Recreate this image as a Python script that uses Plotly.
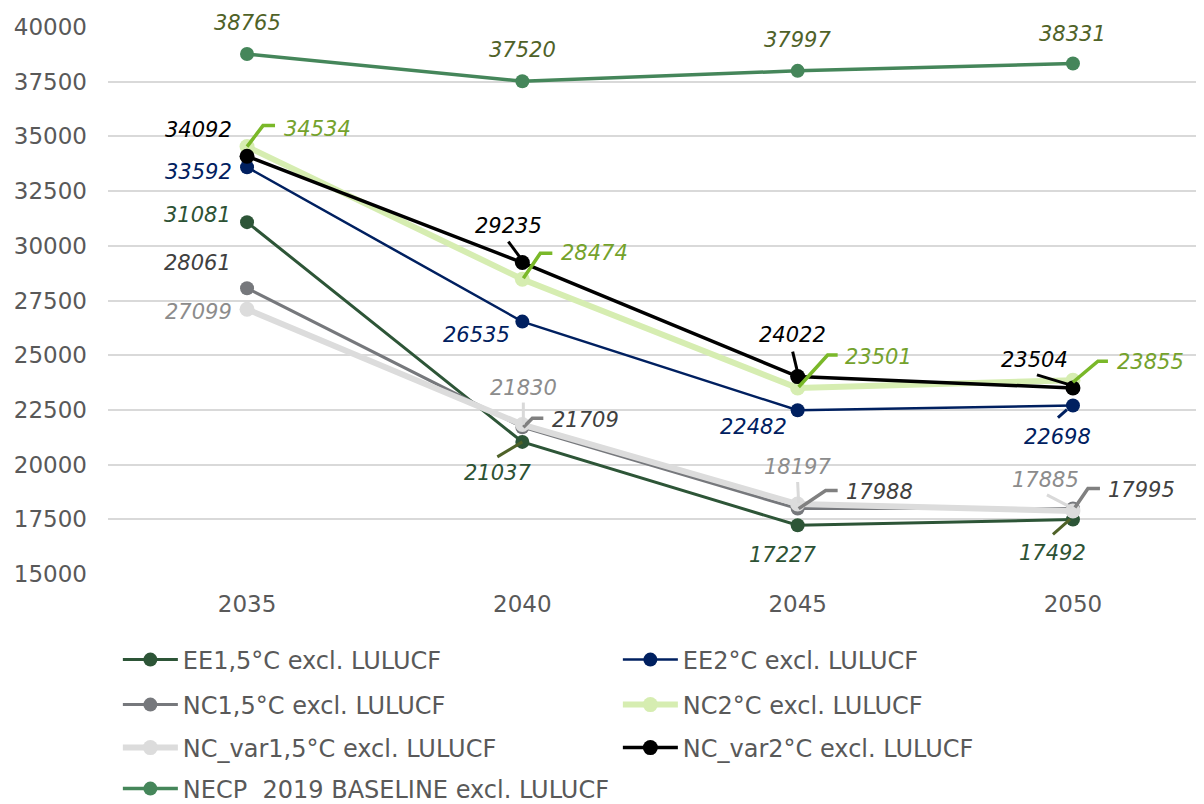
import plotly.graph_objects as go

# ---------------- data ----------------
years = ["2035", "2040", "2045", "2050"]
series_names = [
    "EE1,5°C excl. LULUCF",
    "EE2°C excl. LULUCF",
    "NC1,5°C excl. LULUCF",
    "NC2°C excl. LULUCF",
    "NC_var1,5°C excl. LULUCF",
    "NC_var2°C excl. LULUCF",
    "NECP  2019 BASELINE excl. LULUCF",
]
ee1 = [31081, 21037, 17227, 17492]
ee2 = [33592, 26535, 22482, 22698]
nc1 = [28061, 21709, 17988, 17995]
nc2 = [34534, 28474, 23501, 23855]
nc_var1 = [27099, 21830, 18197, 17885]
nc_var2 = [34092, 29235, 24022, 23504]
necp = [38765, 37520, 37997, 38331]
y_ticks = [15000, 17500, 20000, 22500, 25000, 27500, 30000, 32500, 35000, 37500, 40000]

values = [ee1, ee2, nc1, nc2, nc_var1, nc_var2, necp]

# ---------------- styles ----------------
line_colors = ["#2D5537", "#002060", "#76787C", "#D6EDB1", "#DCDCDC", "#000000", "#45865A"]
line_widths = [3, 2.5, 3, 6, 6, 3.5, 3.5]
marker_sizes = [14, 14, 14, 15, 15, 15, 14]
label_colors = ["#2D5234", "#002060", "#404040", "#74A22C", "#8C8C8C", "#000000", "#4F6228"]
leader_colors = ["#4F6228", "#002060", "#808080", "#7AB829", "#D9D9D9", "#000000", "#4F6228"]
leader_widths = [3, 3, 3.5, 3.5, 3, 3, 3]
legend_ids = ["legend", "legend", "legend2", "legend2", "legend3", "legend3", "legend4"]
# pixel offsets of label centres from their point (screen px, y down)
label_offsets = [
    [(-50, -7), (-25, 31), (-15, 30), (-20, 34)],
    [(-49, 5), (-46, 13), (-44, 17), (-15, 31)],
    [(-50, -25), (63, -7), (82, -17), (69, -18)],
    [(70, -18), (72, -26), (81, -31), (78, -18)],
    [(-49, 3), (1, -37), (0, -37), (-27, -31)],
    [(-49, -26), (-14, -37), (-5, -42), (-38, -28)],
    [(0, -31), (0, -31), (0, -31), (0, -30)],
]
# leader-line polylines, screen px relative to the point (None = no leader)
leader_paths = [
    [None, [(0, 0), (-25, 15)], None, [(-3, 0), (-20, 15)]],
    [None, None, None, [(-6, 4), (-15, 12)]],
    [None, [(1, 0), (10, -9), (21, -9)], [(1, 0), (28, -18), (40, -18)], [(2, -1), (15, -20), (27, -20)]],
    [[(0, 0), (16, -21), (28, -21)], [(1, -1), (18, -26), (30, -26)],
     [(1, -1), (30, -33), (40, -33)], [(0, 2), (25, -19), (35, -19)]],
    [None, [(1, -22), (1, 0)], [(0, -22), (1, -1)], [(-26, -16), (-1, -3)]],
    [None, [(-14, -21), (0, -2)], [(-5, -25), (0, -4)], [(-36, -13), (-3, -3)]],
    [None, None, None, None],
]

TICK_FONT = dict(family="DejaVu Sans, Verdana, sans-serif", size=23, color="#595959")
LABEL_FAMILY = "DejaVu Sans, Verdana, sans-serif"
LEGEND_FONT = dict(family="DejaVu Sans, Verdana, sans-serif", size=24, color="#595959")

fig = go.Figure()
for i, name in enumerate(series_names):
    fig.add_trace(go.Scatter(
        x=years, y=values[i], name=name, mode="lines+markers",
        line=dict(color=line_colors[i], width=line_widths[i]),
        marker=dict(color=line_colors[i], size=marker_sizes[i]),
        legend=legend_ids[i], cliponaxis=False, hoverinfo="skip",
    ))

annotations = []
shapes = []
for i in range(len(series_names)):
    for j, yr in enumerate(years):
        dx, dy = label_offsets[i][j]
        annotations.append(dict(
            x=j, y=values[i][j], xref="x", yref="y",   # category index on the category axis
            text="<i>%d</i>" % values[i][j],
            showarrow=True, ax=dx, ay=dy, arrowcolor="rgba(0,0,0,0)", arrowwidth=0.1,
            font=dict(family=LABEL_FAMILY, size=21, color=label_colors[i]),
        ))
        pts = leader_paths[i][j]
        if pts:
            path = "M" + " L".join("%g,%g" % (px, -py) for px, py in pts)
            shapes.append(dict(
                type="path", path=path, xref="x", yref="y",
                xsizemode="pixel", ysizemode="pixel", xanchor=j, yanchor=values[i][j],
                line=dict(color=leader_colors[i], width=leader_widths[i]), layer="above",
            ))

# the page adds an 8px body margin, so the figure is drawn 8px smaller and offset
OFF = 8
plot_h = 804 - 27 - 230

def ly(px):
    return (574 - px) / plot_h

legend_common = dict(orientation="h", xanchor="left", yanchor="middle", x=0.009,
                     font=LEGEND_FONT, bgcolor="rgba(0,0,0,0)", itemwidth=55,
                     entrywidth=430, entrywidthmode="pixels", itemclick=False)

fig.update_layout(
    width=1204 - OFF, height=804 - OFF,
    margin=dict(l=108 - OFF, r=0, t=27 - OFF, b=230, autoexpand=False),
    paper_bgcolor="white", plot_bgcolor="white",
    showlegend=True,
    legend=dict(legend_common, y=ly(660)),
    legend2=dict(legend_common, y=ly(705)),
    legend3=dict(legend_common, y=ly(748)),
    legend4=dict(legend_common, y=ly(789)),
    annotations=annotations,
    shapes=shapes,
    xaxis=dict(type="category", range=[-0.505, 3.476], showgrid=False, zeroline=False,
               showline=False, tickfont=TICK_FONT, ticks="", ticklabelstandoff=14,
               automargin=False),
    yaxis=dict(range=[15000, 40000], tickvals=y_ticks, ticktext=[str(v) for v in y_ticks],
               showgrid=True, gridcolor="#D9D9D9", gridwidth=1.5, zeroline=False,
               showline=False, tickfont=TICK_FONT, ticks="", ticklabelstandoff=20,
               automargin=False),
)

fig.write_html("out.html")
